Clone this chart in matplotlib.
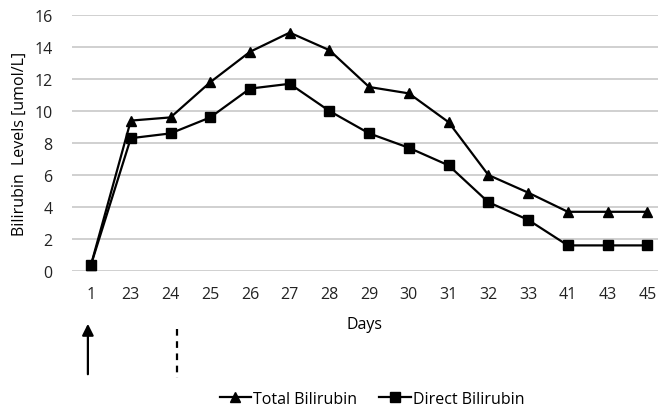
import matplotlib
matplotlib.use("Agg")
import matplotlib.pyplot as plt
import matplotlib.transforms as mtransforms

days = ["1", "23", "24", "25", "26", "27", "28", "29", "30", "31", "32", "33", "41", "43", "45"]
total_bili = [0.4, 9.4, 9.6, 11.8, 13.7, 14.9, 13.8, 11.5, 11.1, 9.3, 6.0, 4.9, 3.7, 3.7, 3.7]
direct_bili = [0.4, 8.3, 8.6, 9.6, 11.4, 11.7, 10.0, 8.6, 7.7, 6.6, 4.3, 3.2, 1.6, 1.6, 1.6]

plt.rcParams["font.family"] = ["Open Sans", "DejaVu Sans"]

fig = plt.figure(figsize=(6.58, 4.10), dpi=100)
ax = fig.add_axes([72 / 658, 138 / 410, 586 / 658, 256 / 410])

x = list(range(len(days)))
ax.plot(x, total_bili, color="black", lw=1.6, marker="^", ms=7.5, label="Total Bilirubin")
ax.plot(x, direct_bili, color="black", lw=1.6, marker="s", ms=7, label="Direct Bilirubin")

ax.set_xlim(-0.48, 14.27)
ax.set_ylim(0, 16)
ax.set_yticks(range(0, 17, 2))
ax.set_xticks(x)
ax.set_xticklabels(days)
ax.grid(axis="y", color="#c8c8c8", lw=1.2)
ax.set_axisbelow(True)
for s in ax.spines.values():
    s.set_visible(False)
ax.tick_params(length=0, labelsize=11.5, colors="#222222", pad=11)
ax.tick_params(axis="y", pad=14)
ax.set_xlabel("Days", fontsize=11.5, labelpad=10)
ax.set_ylabel("Bilirubin  Levels [umol/L]", fontsize=11.5, labelpad=5)

# markers below the axis: arrow at day 1, dashed line near day 24
tr = mtransforms.blended_transform_factory(ax.transData, fig.transFigure)
ax.annotate("", xy=(-0.08, 1 - 322 / 410), xytext=(-0.08, 1 - 378 / 410),
            xycoords=tr, textcoords=tr, annotation_clip=False,
            arrowprops=dict(arrowstyle="-|>", color="black", lw=1.6, mutation_scale=17))
ax.plot([2.17, 2.17], [1 - 330 / 410, 1 - 379 / 410], transform=tr, color="black",
        lw=1.6, ls=(0, (3, 2.5)), clip_on=False)

fig.legend(loc="center", bbox_to_anchor=(372 / 658, 10 / 410), ncol=2, frameon=False,
           fontsize=11.5, handlelength=2.0, handletextpad=0.1, columnspacing=1.4)

fig.savefig("out.png", dpi=100)
